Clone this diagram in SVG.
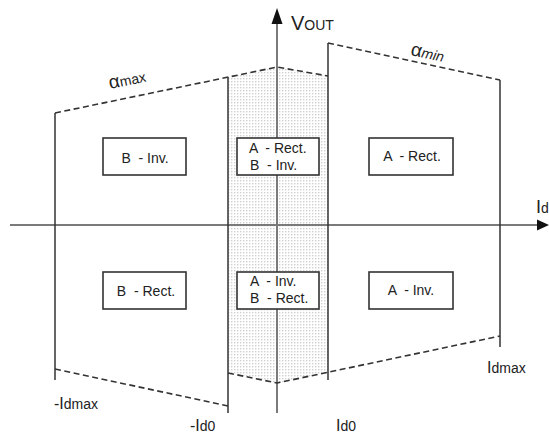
<svg xmlns="http://www.w3.org/2000/svg" width="549" height="433" viewBox="0 0 549 433">
<style>
text{font-family:"Liberation Sans",Arial,sans-serif;fill:#222}
.axis{stroke:#7a7a7a;stroke-width:2;fill:none}
.bound{stroke:#333;stroke-width:1.5;fill:none}
.dash{stroke:#333;stroke-width:1.6;fill:none;stroke-dasharray:6 3.5}
.box rect{fill:#fff;stroke:#333;stroke-width:1.6}
.box text{font-size:14px;white-space:pre}
</style>
<defs>
<pattern id="dots" width="3" height="3" patternUnits="userSpaceOnUse">
<rect x="0" y="0" width="1.4" height="1.4" fill="#d0d0d0"/>
</pattern>
</defs>
<rect width="549" height="433" fill="#fff"/>
<!-- shaded overlap region -->
<polygon points="228,77 277,67 328,76 328,373 277,383 228,373" fill="url(#dots)"/>
<g id="connectors">
<!-- axes -->
<line class="axis" x1="10" y1="225" x2="540" y2="225"/>
<polygon points="537,219.5 549,225 537,230.5" fill="#111"/>
<line class="axis" x1="277" y1="413" x2="277" y2="22"/>
<polygon points="271.5,24 277,8 282.5,24" fill="#111"/>
<!-- vertical boundaries -->
<line class="bound" x1="55" y1="113" x2="55" y2="380"/>
<line class="bound" x1="228" y1="77" x2="228" y2="413"/>
<line class="bound" x1="328" y1="43" x2="328" y2="380"/>
<line class="bound" x1="500" y1="80" x2="500" y2="347"/>
<!-- dashed alpha limits -->
<polyline class="dash" points="55,113 277,67 328,76"/>
<line class="dash" x1="328" y1="43" x2="500" y2="80"/>
<polyline class="dash" points="228,373 277,383 500,336"/>
<line class="dash" x1="55" y1="369" x2="228" y2="406"/>
</g>
<g id="b-inv" class="box"><rect x="103" y="138" width="83" height="37"/><text x="145" y="163" text-anchor="middle">B  - Inv.</text></g>
<g id="ab-top" class="box"><rect x="237" y="138" width="82" height="37"/><text x="249" y="153">A  - Rect.</text><text x="250" y="170">B  - Inv.</text></g>
<g id="a-rect" class="box"><rect x="369" y="138" width="84" height="37"/><text x="412" y="161" text-anchor="middle">A  - Rect.</text></g>
<g id="b-rect" class="box"><rect x="103" y="272" width="83" height="37"/><text x="146" y="296" text-anchor="middle">B  - Rect.</text></g>
<g id="ab-bottom" class="box"><rect x="237" y="272" width="82" height="37"/><text x="250" y="286">A  - Inv.</text><text x="250" y="303">B  - Rect.</text></g>
<g id="a-inv" class="box"><rect x="369" y="272" width="84" height="37"/><text x="411" y="295" text-anchor="middle">A  - Inv.</text></g>
<g id="labels">
<text x="291" y="30"><tspan font-size="20">V</tspan><tspan font-size="14">OUT</tspan></text>
<text x="536" y="213"><tspan font-size="18">I</tspan><tspan font-size="14">d</tspan></text>
<text transform="translate(110,89) rotate(-11.7)"><tspan font-size="19">α</tspan><tspan font-size="14">max</tspan></text>
<text transform="translate(410,55) rotate(12)"><tspan font-size="19">α</tspan><tspan font-size="14" font-style="italic">min</tspan></text>
<text x="54" y="409"><tspan font-size="16">-I</tspan><tspan font-size="14">dmax</tspan></text>
<text x="190" y="431"><tspan font-size="16">-I</tspan><tspan font-size="14">d0</tspan></text>
<text x="336" y="431"><tspan font-size="16">I</tspan><tspan font-size="14">d0</tspan></text>
<text x="487" y="373"><tspan font-size="16">I</tspan><tspan font-size="14">dmax</tspan></text>
</g>
</svg>
